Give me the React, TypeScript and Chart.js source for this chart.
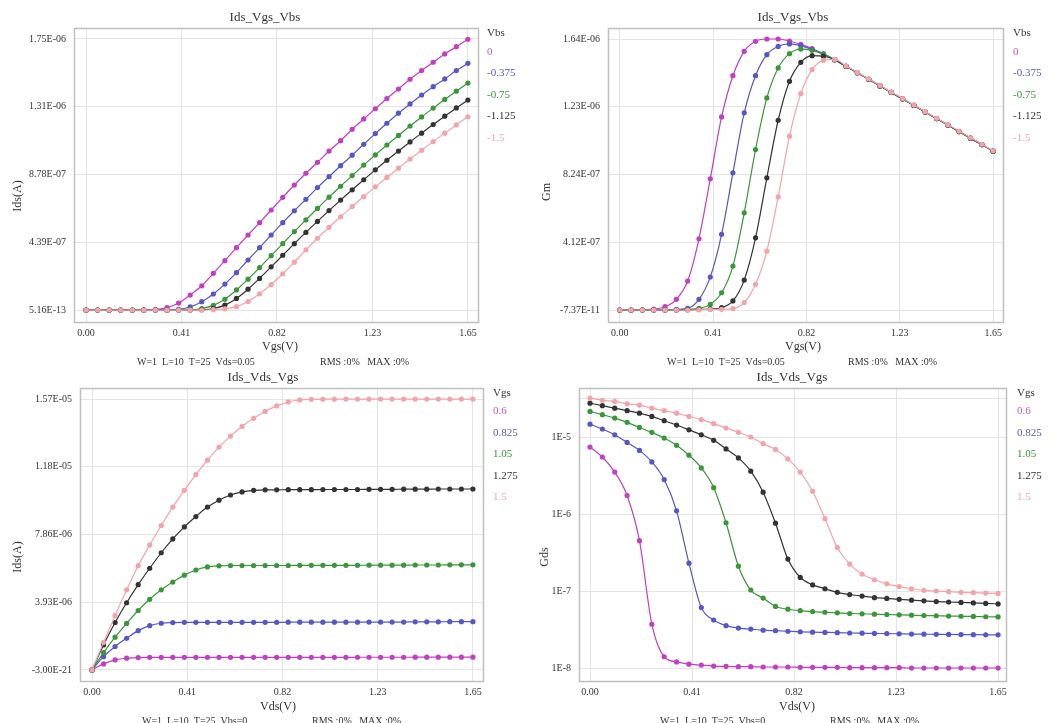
import React, { useEffect, useRef } from 'react';
import { Chart, registerables } from 'chart.js';

Chart.register(...registerables);

// ---------- DATA ----------
const V_SWEEP = [0, 0.05, 0.1, 0.15, 0.2, 0.25, 0.3, 0.35, 0.4, 0.45, 0.5, 0.55, 0.6, 0.65, 0.7, 0.75, 0.8, 0.85, 0.9, 0.95, 1.0, 1.05, 1.1, 1.15, 1.2, 1.25, 1.3, 1.35, 1.4, 1.45, 1.5, 1.55, 1.6, 1.65];

const X_TICKS = [0, 0.4125, 0.825, 1.2375, 1.65];
const X_TICK_LABELS = ['0.00', '0.41', '0.82', '1.23', '1.65'];

const VBS_LABELS = ['0', '-0.375', '-0.75', '-1.125', '-1.5'];
const VGS_LABELS = ['0.6', '0.825', '1.05', '1.275', '1.5'];

// Ids vs Vgs (µA)
const IDS_VGS_0 = [0, 0, 0, 0, 0, 0.001, 0.004, 0.015, 0.045, 0.097, 0.157, 0.238, 0.32, 0.404, 0.486, 0.566, 0.648, 0.73, 0.81, 0.886, 0.957, 1.03, 1.097, 1.171, 1.238, 1.304, 1.37, 1.432, 1.495, 1.551, 1.605, 1.659, 1.706, 1.754];
const IDS_VGS_M0375 = [0, 0, 0, 0, 0, 0, 0, 0.001, 0.005, 0.02, 0.054, 0.104, 0.168, 0.242, 0.324, 0.404, 0.486, 0.566, 0.643, 0.717, 0.793, 0.864, 0.935, 1.003, 1.074, 1.143, 1.21, 1.275, 1.335, 1.393, 1.447, 1.497, 1.551, 1.598];
const IDS_VGS_M075 = [0, 0, 0, 0, 0, 0, 0, 0, 0, 0.002, 0.01, 0.03, 0.07, 0.13, 0.2, 0.275, 0.352, 0.43, 0.508, 0.584, 0.658, 0.731, 0.802, 0.871, 0.939, 1.005, 1.069, 1.131, 1.192, 1.251, 1.308, 1.364, 1.418, 1.47];
const IDS_VGS_M1125 = [0, 0, 0, 0, 0, 0, 0, 0, 0, 0, 0.002, 0.01, 0.032, 0.075, 0.135, 0.205, 0.28, 0.355, 0.43, 0.503, 0.574, 0.644, 0.712, 0.779, 0.844, 0.908, 0.97, 1.03, 1.089, 1.146, 1.202, 1.256, 1.309, 1.36];
const IDS_VGS_M15 = [0, 0, 0, 0, 0, 0, 0, 0, 0, 0, 0, 0.002, 0.008, 0.022, 0.055, 0.105, 0.165, 0.235, 0.31, 0.39, 0.465, 0.536, 0.604, 0.67, 0.735, 0.798, 0.859, 0.919, 0.978, 1.035, 1.091, 1.146, 1.199, 1.252];
const IDS_VGS_YTICKS = [0, 0.439, 0.878, 1.317, 1.756];
const IDS_VGS_YLABELS = ['5.16E-13', '4.39E-07', '8.78E-07', '1.31E-06', '1.75E-06'];

// Gm vs Vgs (µS)
const GM_0 = [0, 0, 0.001, 0.005, 0.02, 0.065, 0.176, 0.433, 0.798, 1.174, 1.425, 1.573, 1.634, 1.648, 1.648, 1.636, 1.615, 1.59, 1.558, 1.522, 1.482, 1.443, 1.403, 1.363, 1.323, 1.284, 1.244, 1.204, 1.164, 1.125, 1.085, 1.045, 1.006, 0.966];
const GM_M0375 = [0, 0, 0, 0, 0.002, 0.004, 0.01, 0.065, 0.2, 0.46, 0.834, 1.199, 1.425, 1.553, 1.603, 1.618, 1.608, 1.584, 1.556, 1.522, 1.482, 1.443, 1.403, 1.363, 1.323, 1.284, 1.244, 1.204, 1.164, 1.125, 1.085, 1.045, 1.006, 0.966];
const GM_M075 = [0, 0, 0, 0, 0, 0.001, 0.003, 0.01, 0.034, 0.105, 0.267, 0.591, 0.976, 1.29, 1.472, 1.559, 1.587, 1.579, 1.556, 1.522, 1.482, 1.443, 1.403, 1.363, 1.323, 1.284, 1.244, 1.204, 1.164, 1.125, 1.085, 1.045, 1.006, 0.966];
const GM_M1125 = [0, 0, 0, 0, 0, 0, 0.001, 0.003, 0.006, 0.014, 0.055, 0.182, 0.439, 0.804, 1.154, 1.391, 1.506, 1.547, 1.543, 1.522, 1.482, 1.443, 1.403, 1.363, 1.323, 1.284, 1.244, 1.204, 1.164, 1.125, 1.085, 1.045, 1.006, 0.966];
const GM_M15 = [0, 0, 0, 0, 0, 0, 0, 0.001, 0.003, 0.004, 0.008, 0.045, 0.156, 0.358, 0.688, 1.057, 1.316, 1.462, 1.518, 1.524, 1.484, 1.445, 1.405, 1.365, 1.325, 1.286, 1.246, 1.206, 1.166, 1.127, 1.087, 1.047, 1.008, 0.968];
const GM_YTICKS = [0, 0.412, 0.824, 1.236, 1.648];
const GM_YLABELS = ['-7.37E-11', '4.12E-07', '8.24E-07', '1.23E-06', '1.64E-06'];

// Ids vs Vds (µA)
const IDS_VDS_06 = [0, 0.35, 0.58, 0.68, 0.72, 0.73, 0.73, 0.73, 0.73, 0.73, 0.73, 0.73, 0.73, 0.73, 0.73, 0.73, 0.73, 0.73, 0.73, 0.73, 0.73, 0.73, 0.73, 0.735, 0.735, 0.735, 0.735, 0.735, 0.74, 0.74, 0.74, 0.74, 0.74, 0.74];
const IDS_VDS_0825 = [0, 0.77, 1.36, 1.84, 2.28, 2.57, 2.71, 2.75, 2.76, 2.76, 2.76, 2.76, 2.76, 2.76, 2.76, 2.76, 2.76, 2.77, 2.77, 2.77, 2.77, 2.77, 2.77, 2.77, 2.78, 2.78, 2.78, 2.78, 2.79, 2.79, 2.79, 2.8, 2.8, 2.8];
const IDS_VDS_105 = [0, 1.0, 1.9, 2.7, 3.45, 4.1, 4.65, 5.1, 5.5, 5.8, 5.98, 6.04, 6.06, 6.06, 6.06, 6.06, 6.06, 6.06, 6.07, 6.07, 6.07, 6.07, 6.07, 6.07, 6.08, 6.08, 6.08, 6.08, 6.09, 6.09, 6.09, 6.1, 6.1, 6.1];
const IDS_VDS_1275 = [0, 1.45, 2.75, 3.9, 4.95, 5.9, 6.8, 7.6, 8.3, 8.9, 9.45, 9.85, 10.15, 10.33, 10.42, 10.45, 10.45, 10.46, 10.46, 10.46, 10.47, 10.47, 10.47, 10.47, 10.48, 10.48, 10.48, 10.49, 10.49, 10.49, 10.5, 10.5, 10.5, 10.5];
const IDS_VDS_15 = [0, 1.6, 3.15, 4.65, 6.05, 7.25, 8.38, 9.45, 10.42, 11.33, 12.17, 12.93, 13.57, 14.13, 14.6, 15.0, 15.32, 15.55, 15.67, 15.7, 15.71, 15.71, 15.72, 15.72, 15.72, 15.72, 15.72, 15.72, 15.72, 15.72, 15.72, 15.72, 15.72, 15.72];
const IDS_VDS_YTICKS = [0, 3.93, 7.86, 11.79, 15.72];
const IDS_VDS_YLABELS = ['-3.00E-21', '3.93E-06', '7.86E-06', '1.18E-05', '1.57E-05'];

// Gds vs Vds (S)
const GDS_06 = [7.4e-6, 5.5e-6, 3.5e-6, 1.74e-6, 4.5e-7, 3.7e-8, 1.4e-8, 1.2e-8, 1.12e-8, 1.09e-8, 1.06e-8, 1.05e-8, 1.04e-8, 1.04e-8, 1.03e-8, 1.03e-8, 1.03e-8, 1.02e-8, 1.02e-8, 1.02e-8, 1.02e-8, 1.01e-8, 1.01e-8, 1.01e-8, 1.01e-8, 1.01e-8, 1.0e-8, 1.0e-8, 1.0e-8, 1.0e-8, 1.0e-8, 1.0e-8, 1.0e-8, 1.0e-8];
const GDS_0825 = [1.47e-5, 1.27e-5, 1.07e-5, 8.5e-6, 6.7e-6, 4.75e-6, 2.8e-6, 1.1e-6, 2.3e-7, 6.1e-8, 4.2e-8, 3.55e-8, 3.3e-8, 3.2e-8, 3.1e-8, 3.05e-8, 3.0e-8, 2.95e-8, 2.92e-8, 2.9e-8, 2.88e-8, 2.85e-8, 2.83e-8, 2.81e-8, 2.8e-8, 2.78e-8, 2.76e-8, 2.75e-8, 2.74e-8, 2.73e-8, 2.72e-8, 2.71e-8, 2.7e-8, 2.7e-8];
const GDS_105 = [2.15e-5, 1.95e-5, 1.76e-5, 1.55e-5, 1.33e-5, 1.15e-5, 9.7e-6, 7.8e-6, 5.8e-6, 3.97e-6, 2.2e-6, 7.7e-7, 2.1e-7, 1.03e-7, 8.1e-8, 6.3e-8, 5.8e-8, 5.55e-8, 5.4e-8, 5.3e-8, 5.2e-8, 5.1e-8, 5.05e-8, 5.0e-8, 4.95e-8, 4.9e-8, 4.85e-8, 4.8e-8, 4.77e-8, 4.73e-8, 4.7e-8, 4.67e-8, 4.63e-8, 4.6e-8];
const GDS_1275 = [2.75e-5, 2.55e-5, 2.37e-5, 2.2e-5, 2.04e-5, 1.85e-5, 1.63e-5, 1.43e-5, 1.24e-5, 1.07e-5, 9.06e-6, 7.0e-6, 5.35e-6, 3.6e-6, 1.92e-6, 7.6e-7, 2.6e-7, 1.5e-7, 1.2e-7, 1.07e-7, 9.6e-8, 9.0e-8, 8.6e-8, 8.2e-8, 8.0e-8, 7.8e-8, 7.6e-8, 7.45e-8, 7.3e-8, 7.2e-8, 7.1e-8, 7.0e-8, 6.9e-8, 6.8e-8];
const GDS_15 = [3.2e-5, 3.0e-5, 2.9e-5, 2.7e-5, 2.6e-5, 2.37e-5, 2.2e-5, 2.04e-5, 1.85e-5, 1.68e-5, 1.49e-5, 1.31e-5, 1.15e-5, 1.0e-5, 8.2e-6, 6.9e-6, 5.2e-6, 3.5e-6, 1.98e-6, 8.7e-7, 3.67e-7, 2.24e-7, 1.66e-7, 1.4e-7, 1.24e-7, 1.14e-7, 1.07e-7, 1.02e-7, 1.0e-7, 9.8e-8, 9.6e-8, 9.5e-8, 9.4e-8, 9.3e-8];
const GDS_YTICKS = [1e-8, 1e-7, 1e-6, 1e-5, 3.2e-5];
const GDS_YLABELS = ['1E-8', '1E-7', '1E-6', '1E-5', ''];

const MICRO = 1e-6;

// ---------- STYLE ----------
const FONT = '"Liberation Serif", "Times New Roman", serif';
const SERIES_COLORS = ['#c23ec2', '#5656c8', '#3a963a', '#333333', '#f3a4aa'];
const LEGEND_COLORS = ['#c35cc3', '#5a5ab8', '#3d8f3d', '#333333', '#f0a9b0'];
const GRID_COLOR = '#e4e4e4';
const FRAME_COLOR = '#c0c0c0';
const TEXT_COLOR = '#333333';

type Pt = [number, number];
interface PanelDef {
  box: { left: number; top: number; w: number; h: number };
  pad: { left: number; top: number; right: number; bottom: number };
  yWidth: number;
  xHeight: number;
  xMin: number;
  xMax: number;
  yMin: number;
  yMax: number;
  yLog: boolean;
  yTicks: number[];
  yLabels: string[];
  series: number[][];
  unit: number;
  title: string;
  titlePos: Pt;
  yTitle: string;
  yTitlePos: Pt;
  xTitle: string;
  xTitlePos: Pt;
  legendTitle: string;
  legendLabels: string[];
  legendX: number;
  legendY: number[];
  footLeft: string;
  footY: number;
  footLeftX: number;
  footRightX: number;
}

const FOOT_RIGHT = 'RMS :0%   MAX :0%';

const PANELS: PanelDef[] = [
  {
    box: { left: 0, top: 0, w: 531, h: 370 },
    pad: { left: 14, top: 28, right: 52, bottom: 17 },
    yWidth: 60, xHeight: 30,
    xMin: -0.052, xMax: 1.698,
    yMin: -0.084 * MICRO, yMax: 1.827 * MICRO, yLog: false,
    yTicks: IDS_VGS_YTICKS.map((v) => v * MICRO), yLabels: IDS_VGS_YLABELS,
    series: [IDS_VGS_0, IDS_VGS_M0375, IDS_VGS_M075, IDS_VGS_M1125, IDS_VGS_M15], unit: MICRO,
    title: 'Ids_Vgs_Vbs', titlePos: [265, 18],
    yTitle: 'Ids(A)', yTitlePos: [18, 196],
    xTitle: 'Vgs(V)', xTitlePos: [280, 347],
    legendTitle: 'Vbs', legendLabels: VBS_LABELS, legendX: 487, legendY: [33, 52, 73.5, 95, 116.5, 138],
    footLeft: 'W=1  L=10  T=25  Vds=0.05', footY: 362, footLeftX: 137, footRightX: 320,
  },
  {
    box: { left: 531, top: 0, w: 532, h: 370 },
    pad: { left: 17, top: 28, right: 59, bottom: 17 },
    yWidth: 60, xHeight: 30,
    xMin: -0.052, xMax: 1.698,
    yMin: -0.079 * MICRO, yMax: 1.715 * MICRO, yLog: false,
    yTicks: GM_YTICKS.map((v) => v * MICRO), yLabels: GM_YLABELS,
    series: [GM_0, GM_M0375, GM_M075, GM_M1125, GM_M15], unit: MICRO,
    title: 'Ids_Vgs_Vbs', titlePos: [793, 18],
    yTitle: 'Gm', yTitlePos: [547, 192],
    xTitle: 'Vgs(V)', xTitlePos: [803, 347],
    legendTitle: 'Vbs', legendLabels: VBS_LABELS, legendX: 1013, legendY: [33, 52, 73.5, 95, 116.5, 138],
    footLeft: 'W=1  L=10  T=25  Vds=0.05', footY: 362, footLeftX: 667, footRightX: 848,
  },
  {
    box: { left: 0, top: 362, w: 531, h: 361 },
    pad: { left: 20, top: 26, right: 47, bottom: 11 },
    yWidth: 60, xHeight: 30,
    xMin: -0.052, xMax: 1.698,
    yMin: -0.7 * MICRO, yMax: 16.36 * MICRO, yLog: false,
    yTicks: IDS_VDS_YTICKS.map((v) => v * MICRO), yLabels: IDS_VDS_YLABELS,
    series: [IDS_VDS_06, IDS_VDS_0825, IDS_VDS_105, IDS_VDS_1275, IDS_VDS_15], unit: MICRO,
    title: 'Ids_Vds_Vgs', titlePos: [263, 378],
    yTitle: 'Ids(A)', yTitlePos: [18, 557],
    xTitle: 'Vds(V)', xTitlePos: [278, 707],
    legendTitle: 'Vgs', legendLabels: VGS_LABELS, legendX: 493, legendY: [393, 411.5, 433, 454.5, 476, 497.5],
    footLeft: 'W=1  L=10  T=25  Vbs=0', footY: 721, footLeftX: 142, footRightX: 312,
  },
  {
    box: { left: 531, top: 362, w: 532, h: 361 },
    pad: { left: 8, top: 26, right: 56, bottom: 11 },
    yWidth: 40, xHeight: 30,
    xMin: -0.0445, xMax: 1.686,
    yMin: 6.58e-9, yMax: 4.33e-5, yLog: true,
    yTicks: GDS_YTICKS, yLabels: GDS_YLABELS,
    series: [GDS_06, GDS_0825, GDS_105, GDS_1275, GDS_15], unit: 1,
    title: 'Ids_Vds_Vgs', titlePos: [792, 378],
    yTitle: 'Gds', yTitlePos: [545, 557],
    xTitle: 'Vds(V)', xTitlePos: [797, 707],
    legendTitle: 'Vgs', legendLabels: VGS_LABELS, legendX: 1017, legendY: [393, 411.5, 433, 454.5, 476, 497.5],
    footLeft: 'W=1  L=10  T=25  Vbs=0', footY: 721, footLeftX: 660, footRightX: 830,
  },
];

function buildConfig(p: PanelDef): any {
  const ox = p.box.left;
  const oy = p.box.top;
  const decor = {
    id: 'decor',
    beforeDatasetsDraw(chart: any) {
      const a = chart.chartArea;
      const ctx = chart.ctx;
      ctx.save();
      ctx.strokeStyle = FRAME_COLOR;
      ctx.lineWidth = 1.5;
      ctx.strokeRect(a.left + 0.5, a.top + 0.5, a.right - a.left - 1, a.bottom - a.top - 1);
      ctx.restore();
    },
    afterDraw(chart: any) {
      const ctx = chart.ctx;
      ctx.save();
      ctx.textBaseline = 'middle';
      ctx.fillStyle = TEXT_COLOR;
      ctx.textAlign = 'center';
      // title
      ctx.font = `13px ${FONT}`;
      ctx.fillText(p.title, p.titlePos[0] - ox, p.titlePos[1] - oy);
      // x title
      ctx.font = `12px ${FONT}`;
      ctx.fillText(p.xTitle, p.xTitlePos[0] - ox, p.xTitlePos[1] - oy);
      // y title
      ctx.save();
      ctx.translate(p.yTitlePos[0] - ox, p.yTitlePos[1] - oy);
      ctx.rotate(-Math.PI / 2);
      ctx.fillText(p.yTitle, 0, 0);
      ctx.restore();
      // legend
      ctx.textAlign = 'left';
      ctx.font = `11px ${FONT}`;
      ctx.fillStyle = TEXT_COLOR;
      ctx.fillText(p.legendTitle, p.legendX - ox, p.legendY[0] - oy);
      p.legendLabels.forEach((lab, i) => {
        ctx.fillStyle = LEGEND_COLORS[i];
        ctx.fillText(lab, p.legendX - ox, p.legendY[i + 1] - oy);
      });
      // footnote
      ctx.font = `10px ${FONT}`;
      ctx.fillStyle = TEXT_COLOR;
      ctx.fillText(p.footLeft, p.footLeftX - ox, p.footY - oy);
      ctx.fillText(FOOT_RIGHT, p.footRightX - ox, p.footY - oy);
      ctx.restore();
    },
  };

  const datasets = p.series.map((vals, si) => ({
    label: p.legendLabels[si],
    data: V_SWEEP.map((x, i) => ({ x, y: vals[i] * p.unit })),
    borderColor: SERIES_COLORS[si],
    backgroundColor: SERIES_COLORS[si],
    borderWidth: 1.2,
    pointRadius: 2.6,
    pointBorderWidth: 0,
    pointBackgroundColor: SERIES_COLORS[si],
    cubicInterpolationMode: 'monotone',
    clip: 4,
  }));
  // draw the first series (magenta) last so it sits on top as in the reference
  datasets.reverse();

  return {
    type: 'line',
    data: { datasets },
    options: {
      responsive: false,
      animation: false,
      devicePixelRatio: 1,
      layout: { padding: p.pad },
      plugins: {
        legend: { display: false },
        title: { display: false },
        tooltip: { enabled: false },
      },
      scales: {
        x: {
          type: 'linear',
          min: p.xMin,
          max: p.xMax,
          afterBuildTicks: (s: any) => {
            s.ticks = X_TICKS.map((v) => ({ value: v }));
          },
          afterFit: (s: any) => {
            s.height = p.xHeight;
          },
          ticks: {
            autoSkip: false,
            maxRotation: 0,
            padding: 4,
            color: TEXT_COLOR,
            font: { family: FONT, size: 10 },
            callback: (_v: any, i: number) => X_TICK_LABELS[i],
          },
          grid: { color: GRID_COLOR, drawTicks: false, lineWidth: 1 },
          border: { display: false },
        },
        y: {
          type: p.yLog ? 'logarithmic' : 'linear',
          min: p.yMin,
          max: p.yMax,
          afterBuildTicks: (s: any) => {
            s.ticks = p.yTicks.map((v) => ({ value: v }));
          },
          afterFit: (s: any) => {
            s.width = p.yWidth;
          },
          ticks: {
            autoSkip: false,
            padding: 8,
            color: TEXT_COLOR,
            font: { family: FONT, size: 10 },
            callback: (_v: any, i: number) => p.yLabels[i],
          },
          grid: { color: GRID_COLOR, drawTicks: false, lineWidth: 1 },
          border: { display: false },
        },
      },
    },
    plugins: [decor],
  };
}

function Panel({ p }: { p: PanelDef }) {
  const ref = useRef<HTMLCanvasElement | null>(null);
  useEffect(() => {
    if (!ref.current) return;
    const chart = new Chart(ref.current, buildConfig(p));
    return () => chart.destroy();
  }, [p]);
  return (
    <canvas
      ref={ref}
      width={p.box.w}
      height={p.box.h}
      style={{ position: 'absolute', left: p.box.left, top: p.box.top, width: p.box.w, height: p.box.h, display: 'block' }}
    />
  );
}

export default function App() {
  return (
    <div style={{ position: 'absolute', left: 0, top: 0, width: 1063, height: 723, background: '#ffffff', overflow: 'hidden' }}>
      {PANELS.map((p, i) => (
        <Panel key={i} p={p} />
      ))}
    </div>
  );
}
